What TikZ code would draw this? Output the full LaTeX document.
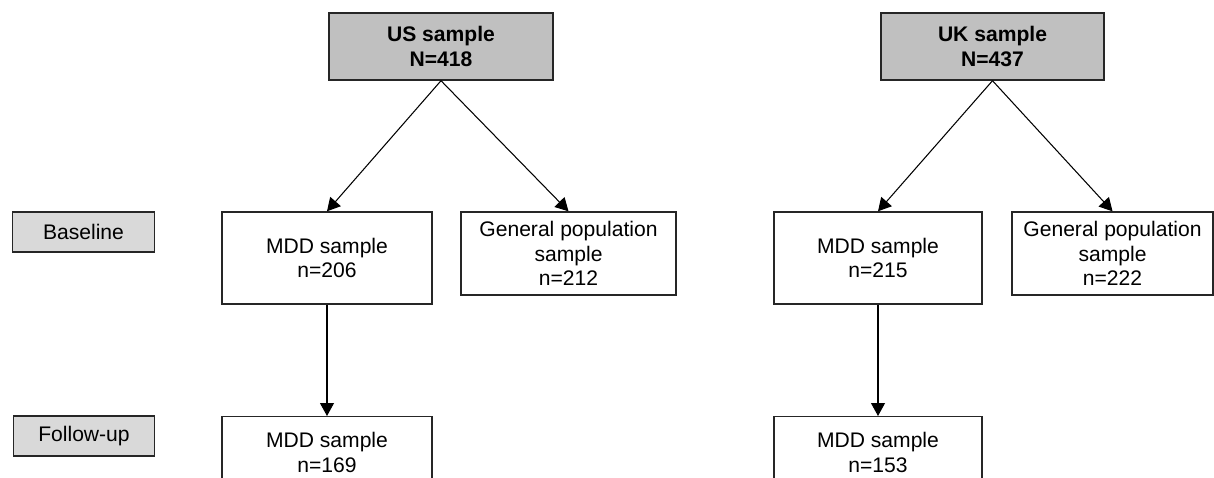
\documentclass[tikz,border=0pt]{standalone}
\usepackage{fontspec}
\setmainfont{Liberation Sans}
\usetikzlibrary{arrows.meta, positioning}
\definecolor{rootgray}{HTML}{C0C0C0}
\definecolor{phasegray}{HTML}{D9D9D9}
\definecolor{edgegray}{HTML}{262626}

\tikzset{
  rootbox/.style={draw=edgegray, line width=0.8pt, fill=rootgray, align=center,
    font=\fontsize{12}{14}\selectfont\bfseries, inner sep=0pt},
  phasebox/.style={draw=edgegray, line width=0.8pt, fill=phasegray, inner sep=0pt,
    minimum width=2.83cm, minimum height=0.8cm, font=\fontsize{12}{14}\selectfont},
  samplebox/.style={draw=edgegray, line width=0.8pt, fill=white, align=center,
    font=\fontsize{12}{14}\selectfont, inner sep=0pt},
  flow/.style={->, line width=0.6pt},
}

\begin{document}
\begin{tikzpicture}[>={Triangle[length=2.6mm, width=2.8mm]}]

% Background
\fill[white] (0,0) rectangle (24.28,-9.56);
\useasboundingbox (0,0) rectangle (24.28,-9.56);

% Phase labels
\node[phasebox] (baseline) at (1.67,-4.64) {Baseline};
\node[phasebox] (followup) at (1.68,-8.72) {Follow-up};

% US sample
\node[rootbox, minimum width=4.48cm, minimum height=1.34cm] (usroot) at (8.82,-0.93)
  {US sample\\N=418};
\node[samplebox, minimum width=4.2cm, minimum height=1.84cm] (usmdd) at (6.54,-5.16)
  {MDD sample\\n=206};
\node[samplebox, minimum width=4.3cm, minimum height=1.66cm] (usgen) at (11.37,-5.07)
  {General population\\sample\\n=212};
\node[samplebox, minimum width=4.2cm, minimum height=1.44cm, anchor=north] (usfollow)
  at (6.54,-8.32) {MDD sample\\n=169};

% UK sample
\node[rootbox, minimum width=4.46cm, minimum height=1.34cm] (ukroot) at (19.85,-0.93)
  {UK sample\\N=437};
\node[samplebox, minimum width=4.16cm, minimum height=1.84cm] (ukmdd) at (17.56,-5.16)
  {MDD sample\\n=215};
\node[samplebox, minimum width=4.02cm, minimum height=1.66cm] (ukgen) at (22.25,-5.07)
  {General population\\sample\\n=222};
\node[samplebox, minimum width=4.16cm, minimum height=1.44cm, anchor=north] (ukfollow)
  at (17.56,-8.32) {MDD sample\\n=153};

% Arrows
\draw[flow] (usroot.south) -- (usmdd.north);
\draw[flow] (usroot.south) -- (usgen.north);
\draw[flow] (usmdd.south) -- (usfollow.north);
\draw[flow] (ukroot.south) -- (ukmdd.north);
\draw[flow] (ukroot.south) -- (ukgen.north);
\draw[flow] (ukmdd.south) -- (ukfollow.north);

\end{tikzpicture}
\end{document}
